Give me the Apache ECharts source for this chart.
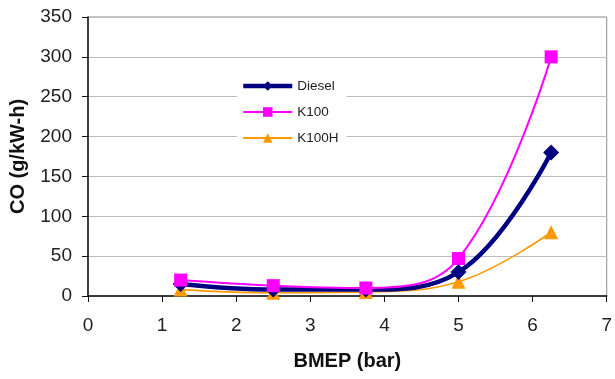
<!DOCTYPE html>
<html>
<head>
<meta charset="utf-8">
<script src="https://cdn.jsdelivr.net/npm/echarts@6/dist/echarts.min.js"></script>
<style>
  html, body { margin: 0; padding: 0; background: #fff; }
  #chart { width: 615px; height: 379px; }
</style>
</head>
<body>
<div id="chart"></div>
<script>
// BMEP load points (bar)
const bmep = [1.25, 2.5, 3.75, 5, 6.25];
// CO emissions (g/kW-h) per fuel
const diesel = [15, 8, 8, 30, 180];
const k100 = [20, 13, 10, 47, 300];
const k100h = [8, 4, 5, 18, 80];
const xTicks = { min: 0, max: 7, step: 1 };
const yTicks = { min: 0, max: 350, step: 50 };

const pairs = (ys) => bmep.map((x, i) => [x, ys[i]]);
const font = 'Liberation Sans, Arial, sans-serif';

const chart = echarts.init(document.getElementById('chart'), null, { renderer: 'canvas' });
chart.setOption({
  animation: false,
  backgroundColor: '#fff',
  grid: {
    left: 88, right: 6, top: 17, bottom: 83,
    show: true, borderColor: '#8c8c8c', borderWidth: 1, backgroundColor: 'transparent'
  },
  legend: {
    orient: 'vertical',
    left: 237, top: 72,
    padding: [7, 8, 7, 4],
    backgroundColor: '#fff',
    itemWidth: 49, itemHeight: 12, itemGap: 12,
    textStyle: { fontFamily: font, fontSize: 13.5, color: '#222' },
    data: [
      { name: 'Diesel', lineStyle: { width: 4.5 } },
      { name: 'K100', lineStyle: { width: 2 } },
      { name: 'K100H', lineStyle: { width: 2 } }
    ]
  },
  xAxis: {
    type: 'value',
    min: xTicks.min, max: xTicks.max, interval: xTicks.step,
    name: 'BMEP (bar)', nameLocation: 'middle', nameGap: 55,
    nameTextStyle: { fontFamily: font, fontSize: 20, fontWeight: 'bold', color: '#111' },
    axisLine: { lineStyle: { color: '#111', width: 1.5 } },
    axisTick: { show: true, inside: false, length: 6, lineStyle: { color: '#111' } },
    axisLabel: { fontFamily: font, fontSize: 19, color: '#222', margin: 20 },
    splitLine: { show: false }
  },
  yAxis: {
    type: 'value',
    min: yTicks.min, max: yTicks.max, interval: yTicks.step,
    name: 'CO (g/kW-h)', nameLocation: 'middle', nameGap: 60, nameRotate: 90,
    nameTextStyle: { fontFamily: font, fontSize: 20, fontWeight: 'bold', color: '#111' },
    axisLine: { show: true, lineStyle: { color: '#111', width: 1.5 } },
    axisTick: { show: true, inside: false, length: 6, lineStyle: { color: '#111' } },
    axisLabel: { fontFamily: font, fontSize: 19, color: '#222', margin: 16 },
    splitLine: { show: true, lineStyle: { color: '#bdbdbd', width: 1.2 } }
  },
  series: [
    {
      name: 'K100H', type: 'line', data: pairs(k100h), smooth: 0.4, z: 2,
      symbol: 'triangle', symbolSize: 14,
      itemStyle: { color: '#ff9900' }, lineStyle: { color: '#ff9900', width: 1.6 }
    },
    {
      name: 'Diesel', type: 'line', data: pairs(diesel), smooth: 0.4, z: 3,
      symbol: 'diamond', symbolSize: 16,
      itemStyle: { color: '#000080' }, lineStyle: { color: '#000080', width: 4.5 }
    },
    {
      name: 'K100', type: 'line', data: pairs(k100), smooth: 0.4, z: 4,
      symbol: 'rect', symbolSize: 13,
      itemStyle: { color: '#ff00ff' }, lineStyle: { color: '#ff00ff', width: 2 }
    }
  ]
});
</script>
</body>
</html>
